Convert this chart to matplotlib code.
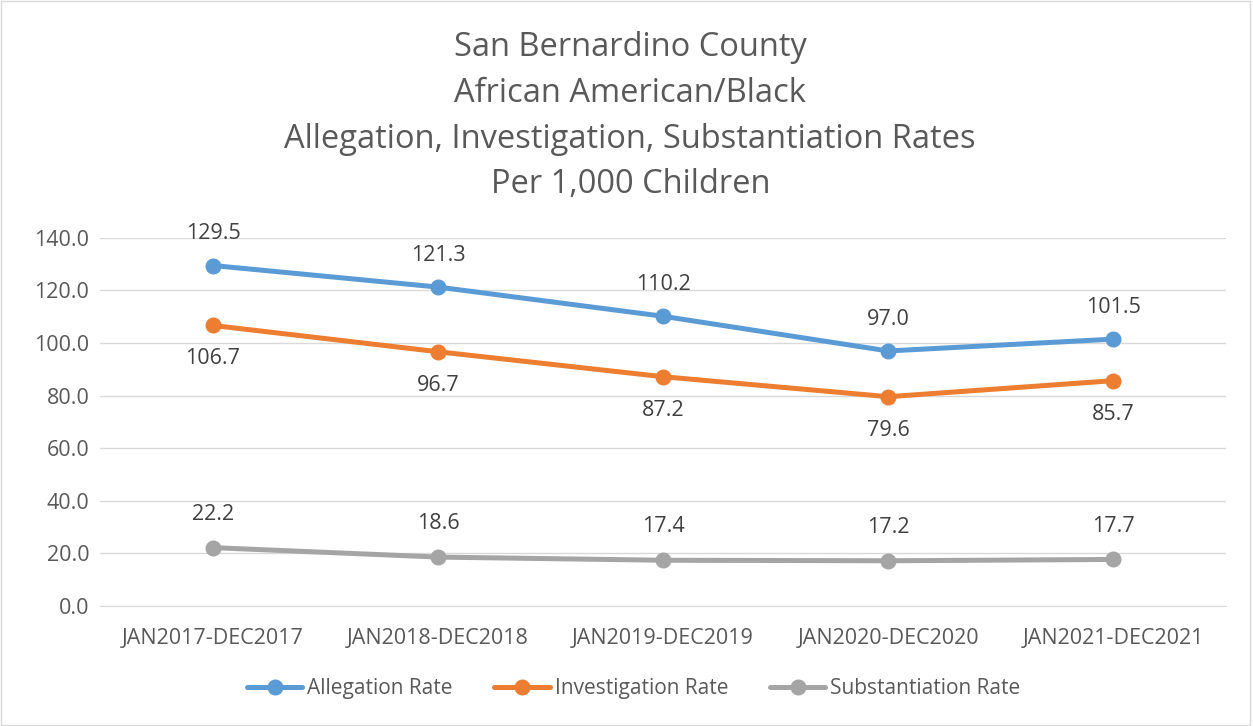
import matplotlib
matplotlib.use("Agg")
import matplotlib.pyplot as plt
from matplotlib.patches import Rectangle

periods = ["JAN2017-DEC2017", "JAN2018-DEC2018", "JAN2019-DEC2019",
           "JAN2020-DEC2020", "JAN2021-DEC2021"]
allegation = [129.5, 121.3, 110.2, 97.0, 101.5]
investigation = [106.7, 96.7, 87.2, 79.6, 85.7]
substantiation = [22.2, 18.6, 17.4, 17.2, 17.7]
y_ticks = [0, 20, 40, 60, 80, 100, 120, 140]

text_c = "#595959"
grid_c = "#D9D9D9"
plt.rcParams["font.family"] = ["Open Sans", "DejaVu Sans"]

fig = plt.figure(figsize=(12.53, 7.26), dpi=100, facecolor="white")
fig.patches.append(Rectangle((0.001, 0.001), 0.997, 0.997, transform=fig.transFigure,
                             fill=False, edgecolor=grid_c, linewidth=1))
ax = fig.add_axes([0.0802, 0.1653, 0.898, 0.507])

x = list(range(len(periods)))
series = [
    ("Allegation Rate", allegation, "#5B9BD5", 23),
    ("Investigation Rate", investigation, "#ED7D31", -24),
    ("Substantiation Rate", substantiation, "#A5A5A5", 24),
]
for name, vals, col, dy in series:
    ax.plot(x, vals, color=col, linewidth=3.6, marker="o", markersize=10.5,
            solid_capstyle="round", label=name, zorder=3)
    for xi, v in zip(x, vals):
        ax.annotate(f"{v:.1f}", xy=(xi, v), xytext=(0, dy), textcoords="offset points",
                    ha="center", va="center", fontsize=15.5, color="#404040")

ax.set_xlim(-0.5, len(periods) - 0.5)
ax.set_ylim(0, 140)
ax.set_yticks(y_ticks)
ax.set_yticklabels([f"{t:.1f}" for t in y_ticks])
ax.set_xticks(x)
ax.set_xticklabels(periods)
ax.tick_params(axis="both", length=0, labelsize=15.5, labelcolor=text_c)
ax.tick_params(axis="x", pad=16)
ax.tick_params(axis="y", pad=8)
ax.grid(True, axis="y", color=grid_c, linewidth=1, zorder=0)
for s in ["top", "right", "left"]:
    ax.spines[s].set_visible(False)
ax.spines["bottom"].set_color(grid_c)

fig.text(0.503, 0.957, "San Bernardino County\nAfrican American/Black\n"
         "Allegation, Investigation, Substantiation Rates\nPer 1,000 Children",
         ha="center", va="top", fontsize=23.5, color=text_c, linespacing=1.51)

ax.legend(loc="center", bbox_to_anchor=(0.474, -0.225), ncol=3, frameon=False,
          fontsize=15, labelcolor=text_c, handlelength=2.65, columnspacing=2.0,
          handletextpad=0.25)

plt.savefig("out.png", dpi=100, facecolor=fig.get_facecolor())
